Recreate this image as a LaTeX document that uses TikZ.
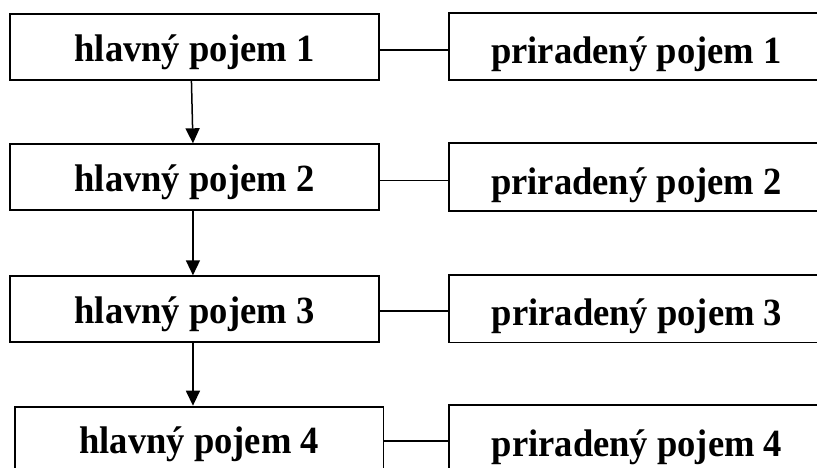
\documentclass[tikz,border=0pt]{standalone}
\usepackage{fontspec}
\usetikzlibrary{arrows.meta}
\newfontfamily\labelfont{Liberation Serif}[FakeStretch=0.95]

\tikzset{
  conceptbox/.style={draw, line width=1.8pt, inner sep=0pt, anchor=north west,
    font=\labelfont\bfseries\fontsize{38.5}{42}\selectfont},
  mainbox/.style={conceptbox, minimum width=368.5pt, text height=47pt, text depth=19pt},
  sidebox/.style={conceptbox, minimum width=375.6pt, text height=51pt, text depth=16.6pt},
  flow/.style={line width=1.5pt, -{Triangle[width=14pt,length=15pt]}},
  link/.style={line width=1.5pt}
}

\begin{document}
\begin{tikzpicture}[x=1pt, y=-1pt]
  \useasboundingbox (0,0) rectangle (817,467);
  \clip (0,0) rectangle (817,467);

  % main concepts (left column)
  \node[mainbox] (L1) at (9.3,13.3)  {hlavný pojem 1};
  \node[mainbox] (L2) at (9.3,143.3) {hlavný pojem 2};
  \node[mainbox] (L3) at (9.3,275.3) {hlavný pojem 3};
  \node[mainbox] (L4) at (14,405.7)  {hlavný pojem 4};

  % assigned concepts (right column)
  \node[sidebox] (R1) at (447.7,11.7)  {priradený pojem 1};
  \node[sidebox] (R2) at (447.7,142.3) {priradený pojem 2};
  \node[sidebox] (R3) at (448.3,274)   {priradený pojem 3};
  \node[sidebox] (R4) at (448.3,404.3) {priradený pojem 4};

  % downward flow between main concepts
  \draw[flow] ([xshift=-3pt]L1.south) -- ([xshift=-1.5pt]L2.north);
  \draw[flow] ([xshift=-1.5pt]L2.south) -- ([xshift=-1.5pt]L3.north);
  \draw[flow] ([xshift=-1.5pt]L3.south) -- ([xshift=-1.5pt]L3.south |- L4.north);

  % links to assigned concepts
  \draw[link] ([yshift=-3pt]L1.east) -- ([yshift=-3pt]L1.east -| R1.west);
  \draw[link] ([yshift=-3.5pt]L2.east) -- ([yshift=-3.5pt]L2.east -| R2.west);
  \draw[link] ([yshift=-2pt]L3.east) -- ([yshift=-2pt]L3.east -| R3.west);
  \draw[link] ([yshift=-1.5pt]L4.east) -- ([yshift=-1.5pt]L4.east -| R4.west);
\end{tikzpicture}
\end{document}
